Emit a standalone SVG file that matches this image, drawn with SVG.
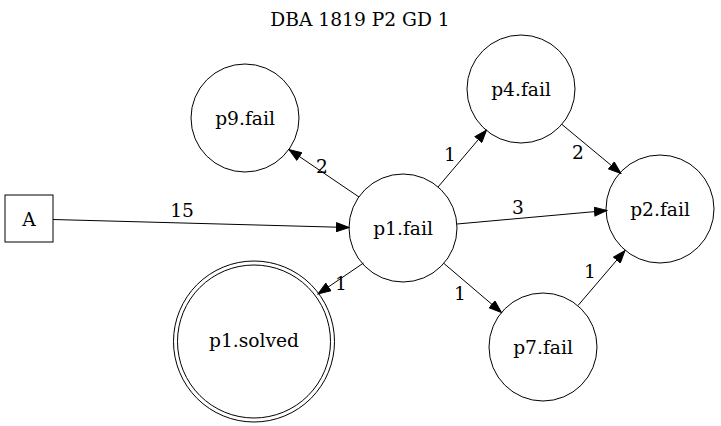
<svg xmlns="http://www.w3.org/2000/svg" width="721" height="426" viewBox="0 0 721 426">
<style>
text{font-family:"DejaVu Serif","Liberation Serif",serif;font-size:18.67px;fill:#000;text-anchor:middle}
.n{fill:none;stroke:#000;stroke-width:1}
.e{fill:none;stroke:#000;stroke-width:1;marker-end:url(#ah)}
</style>
<defs>
<marker id="ah" markerUnits="userSpaceOnUse" markerWidth="14" markerHeight="10" refX="13" refY="5" orient="auto">
<path d="M0.5,0.5 L13,5 L0.5,9.5 z" fill="#000" stroke="#000" stroke-width="1"/>
</marker>
</defs>
<rect width="721" height="426" fill="#fff"/>
<text x="360" y="25.5">DBA 1819 P2 GD 1</text>
<g id="A"><rect class="n" x="5" y="195" width="48" height="47"/><text x="29" y="225.5">A</text></g>
<g id="p1.fail"><circle class="n" cx="403" cy="228" r="54"/><text x="403" y="235">p1.fail</text></g>
<g id="p9.fail"><circle class="n" cx="245" cy="118" r="54"/><text x="245" y="125">p9.fail</text></g>
<g id="p4.fail"><circle class="n" cx="521" cy="89" r="54"/><text x="521" y="96">p4.fail</text></g>
<g id="p2.fail"><circle class="n" cx="660" cy="209" r="54"/><text x="660" y="216">p2.fail</text></g>
<g id="p7.fail"><circle class="n" cx="543" cy="347" r="54"/><text x="543" y="354">p7.fail</text></g>
<g id="p1.solved"><circle class="n" cx="254" cy="341.5" r="80.5"/><circle class="n" cx="254" cy="341.5" r="76.5"/><text x="254" y="347">p1.solved</text></g>
<g id="edges">
<path class="e" d="M53,219.5 L349,227.5"/>
<text x="182" y="217">15</text>
<path class="e" d="M359,197 L289,149.5"/>
<text x="322" y="173">2</text>
<path class="e" d="M438,187 L486.5,130"/>
<text x="450" y="161">1</text>
<path class="e" d="M562,124.5 L621,173.5"/>
<text x="578" y="159">2</text>
<path class="e" d="M457,224 L607,210.5"/>
<text x="518" y="214">3</text>
<path class="e" d="M444,263.5 L501.5,312.5"/>
<text x="460" y="300">1</text>
<path class="e" d="M578,305.5 L625,250.5"/>
<text x="590" y="278">1</text>
<path class="e" d="M363.5,263 L318,294"/>
<text x="341" y="290">1</text>
</g>
</svg>
